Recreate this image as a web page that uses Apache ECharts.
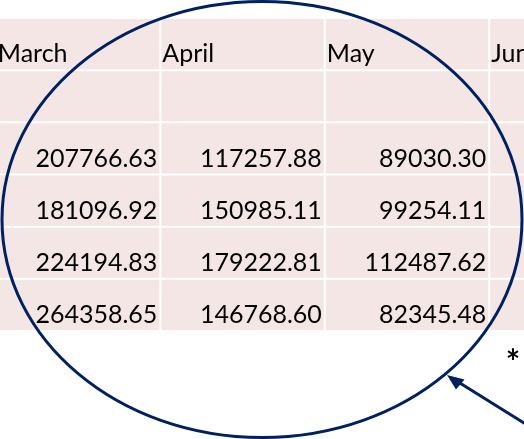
<!DOCTYPE html>
<html>
<head>
<meta charset="utf-8">
<script src="https://cdn.jsdelivr.net/npm/echarts@6/dist/echarts.min.js"></script>
<style>
html,body{margin:0;padding:0;background:#fff;}
#chart{width:524px;height:439px;}
</style>
</head>
<body>
<div id="chart"></div>
<script>
// ---- data ----
const months = ['March', 'April', 'May', 'Jun'];
const rowNames = ['header', 'blank', 'r1', 'r2', 'r3', 'r4'];
const marchValues = [207766.63, 181096.92, 224194.83, 264358.65];
const aprilValues = [117257.88, 150985.11, 179222.81, 146768.60];
const mayValues = [89030.30, 99254.11, 112487.62, 82345.48];
const junValues = [];
const footnoteMark = '*';

// ---- build cells ----
const columns = [marchValues, aprilValues, mayValues, junValues];
const cells = [];
months.forEach(function (m, c) {
  cells.push([c, 0, m, 'head']);
  cells.push([c, 1, '', 'blank']);
  for (let r = 0; r < 4; r++) {
    const v = columns[c][r];
    cells.push([c, r + 2, v === undefined ? '' : v.toFixed(2), 'num']);
  }
});

const FONT = 'Lato, "Liberation Sans", sans-serif';
const PINK = '#f5e6e6';
const NAVY = '#002060';

const chart = echarts.init(document.getElementById('chart'), null, {renderer: 'canvas'});
chart.setOption({
  backgroundColor: '#ffffff',
  animation: false,
  grid: {left: 0, right: 0, top: 19, height: 313, containLabel: false},
  xAxis: {type: 'value', min: -0.4745, max: 2.711, show: false},
  yAxis: {type: 'category', data: rowNames, inverse: true, show: false},
  series: [{
    type: 'custom',
    clip: false,
    data: cells,
    encode: {x: 0, y: 1},
    renderItem: function (params, api) {
      const c = api.value(0), r = api.value(1);
      const center = api.coord([c, r]);
      const size = api.size([1, 1]);
      const w = size[0], h = size[1];
      const x0 = center[0] - w / 2, y0 = center[1] - h / 2;
      const rect = {x: x0 + 1, y: y0, width: w - 2, height: h - 2};
      const kind = cells[params.dataIndex][3];
      const text = cells[params.dataIndex][2];
      const children = [{
        type: 'rect', shape: rect, style: {fill: PINK}
      }];
      if (text) {
        const isHead = kind === 'head';
        children.push({
          type: 'text',
          style: {
            text: text,
            x: isHead ? rect.x + 1 : rect.x + rect.width - 2,
            y: rect.y + rect.height - 15,
            align: isHead ? 'left' : 'right',
            verticalAlign: 'middle',
            font: '25px ' + FONT,
            fill: '#000000'
          }
        });
      }
      return {type: 'group', children: children};
    }
  }],
  graphic: [
    {
      type: 'ellipse', z: 100,
      shape: {cx: 262, cy: 219.5, rx: 260, ry: 218},
      style: {fill: null, stroke: NAVY, lineWidth: 3}
    },
    {
      type: 'line', z: 100,
      shape: {x1: 540, y1: 433, x2: 455, y2: 380},
      style: {stroke: NAVY, lineWidth: 3}
    },
    {
      type: 'polygon', z: 101,
      shape: {points: [[447, 375], [456, 389.5], [464.5, 379.5]]},
      style: {fill: NAVY}
    },
    {
      type: 'text', z: 100,
      style: {text: footnoteMark, x: 513, y: 346, align: 'center', verticalAlign: 'top', font: 'bold 34px ' + FONT, fill: '#000'}
    }
  ]
});
</script>
</body>
</html>
